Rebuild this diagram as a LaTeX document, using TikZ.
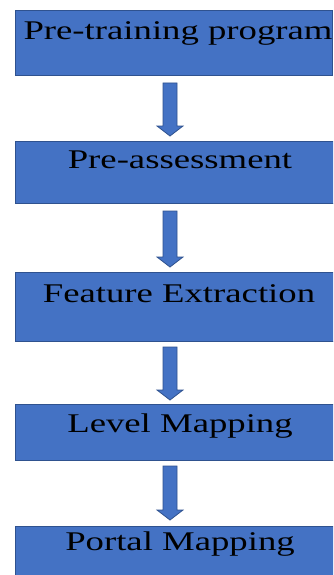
\documentclass[tikz,border=0pt]{standalone}
\usepackage{fontspec}
\usepackage{graphicx}
\setmainfont{Liberation Serif}
\usetikzlibrary{calc}
\definecolor{boxfill}{HTML}{4472C4}
\definecolor{boxline}{HTML}{2F528F}
\begin{document}
\begin{tikzpicture}[x=1pt,y=1pt,
  stepbox/.style={draw=boxline, line width=1pt, fill=boxfill, rectangle, anchor=north west, inner sep=0pt},
  lbl/.style={anchor=base, inner sep=0pt, font=\fontsize{27}{30}\selectfont},
  blk/.style={draw=boxline, line width=0.8pt, fill=boxfill,
    to path={let \p1=(\tikztostart), \p2=(\tikztotarget) in
      (\x1-7pt,\y1) -- (\x1+7pt,\y1) -- (\x1+7pt,\y2+10pt) -- (\x1+13pt,\y2+10pt)
      -- (\x1,\y2) -- (\x1-13pt,\y2+10pt) -- (\x1-7pt,\y2+10pt) -- cycle}}]
\clip (0,0) rectangle (333,-575);
\fill[white] (0,0) rectangle (333,-575);
\coordinate (ax) at (170,0);
% boxes
\node[stepbox, minimum width=317pt, minimum height=65pt] (b1) at (15,-10) {};
\node[stepbox, minimum width=330pt, minimum height=62pt] (b2) at (15,-141) {};
\node[stepbox, minimum width=330pt, minimum height=69pt] (b3) at (15,-272) {};
\node[stepbox, minimum width=330pt, minimum height=56pt] (b4) at (15,-404) {};
\node[stepbox, minimum width=330pt, minimum height=80pt] (b5) at (15,-526) {};
% labels
\node[lbl] (t1) at (178,-40) {\scalebox{1.36}[1]{Pre-training program}};
\node[lbl] (t2) at (180,-168) {\scalebox{1.36}[1]{Pre-assessment}};
\node[lbl] (t3) at (179,-302) {\scalebox{1.36}[1]{Feature Extraction}};
\node[lbl] (t4) at (180,-432) {\scalebox{1.36}[1]{Level Mapping}};
\node[lbl] (t5) at (180,-550) {\scalebox{1.36}[1]{Portal Mapping}};
% arrows
\draw[blk] ([yshift=-7pt]b1.south -| ax) to ([yshift=5pt]b2.north -| ax);
\draw[blk] ([yshift=-7pt]b2.south -| ax) to ([yshift=5pt]b3.north -| ax);
\draw[blk] ([yshift=-5pt]b3.south -| ax) to ([yshift=4pt]b4.north -| ax);
\draw[blk] ([yshift=-5pt]b4.south -| ax) to ([yshift=6pt]b5.north -| ax);
\end{tikzpicture}
\end{document}
